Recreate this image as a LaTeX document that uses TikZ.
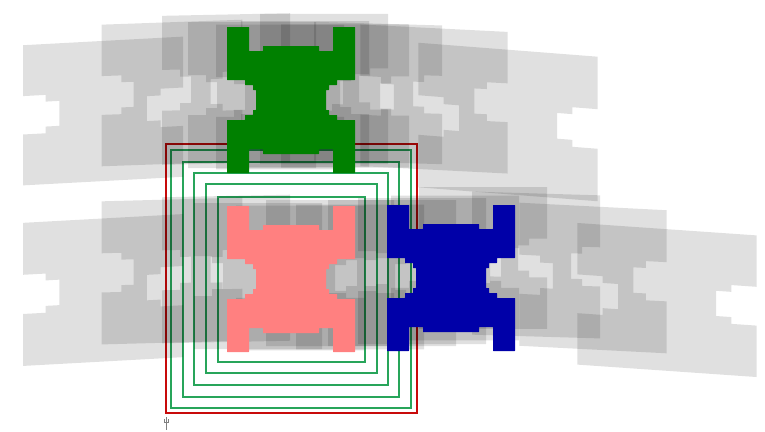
\documentclass[tikz,border=0pt]{standalone}
\definecolor{robgreen}{RGB}{0,128,0}
\definecolor{robpink}{RGB}{255,128,128}
\definecolor{robblue}{RGB}{0,0,168}
\definecolor{boxred}{RGB}{200,10,10}
\definecolor{boxgreen}{RGB}{40,165,90}
\newcommand{\robotat}[2]{%
\begin{scope}[#2]
\fill[#1] (-64,-73) -- (-42,-73) -- (-42,-49) -- (-28,-49) -- (-28,-54) -- (28,-54) -- (28,-49) -- (42,-49) -- (42,-73) -- (64,-73) -- (64,-20) -- (46,-20) -- (46,-15) -- (38,-15) -- (38,-10) -- (35,-10) -- (35,10) -- (38,10) -- (38,15) -- (46,15) -- (46,20) -- (64,20) -- (64,73) -- (42,73) -- (42,49) -- (28,49) -- (28,54) -- (-28,54) -- (-28,49) -- (-42,49) -- (-42,73) -- (-64,73) -- (-64,20) -- (-46,20) -- (-46,15) -- (-38,15) -- (-38,10) -- (-35,10) -- (-35,-10) -- (-38,-10) -- (-38,-15) -- (-46,-15) -- (-46,-20) -- (-64,-20) -- cycle;
\end{scope}}
\newcommand{\ghostat}[1]{%
\begin{scope}[#1]
\fill[ghost] (-64,-73) -- (64,-73) -- (64,-20) -- (46,-20) -- (46,-13) -- (35,-13) -- (35,13) -- (46,13) -- (46,20) -- (64,20) -- (64,73) -- (-64,73) -- (-64,20) -- (-46,20) -- (-46,13) -- (-35,13) -- (-35,-13) -- (-46,-13) -- (-46,-20) -- (-64,-20) -- cycle;
\end{scope}}
\tikzset{
  ghost/.style={black, fill opacity=0.12},
  solidbot/.style={rounded corners=0.4pt},
  outerbox/.style={draw=boxred, line width=1.8pt},
  innerbox/.style={draw=boxgreen, line width=1.4pt}
}
\begin{document}
\begin{tikzpicture}[x=1pt,y=-1pt]
\useasboundingbox (0,0) rectangle (765,431);
\fill[white] (0,0) rectangle (765,431);
% boxes
\draw[outerbox] (166,144) rectangle (417,413);
\draw[innerbox] (171,150) rectangle (411,408);
\draw[innerbox] (183,162) rectangle (399,397);
\draw[innerbox] (194,173) rectangle (388,385);
\draw[innerbox] (206,184) rectangle (377,373);
\draw[innerbox] (218,197) rectangle (365,362);
% small frame marker
\draw[gray, line width=0.5pt] (166,417) -- (166,430);
\draw[gray, line width=0.5pt] (164,419) -- (164,422) -- (168,422) -- (168,419);
% top row of ghost poses
\ghostat{shift={(103,111)}, xscale=1.25, yscale=0.96, yslant=0.07}
\ghostat{shift={(172,93)}, xscale=1.1, yscale=0.97, yslant=0.04}
\ghostat{shift={(226,89)}, yscale=1.02, yslant=0.02}
\ghostat{shift={(252,95)}, yscale=1.0}
\ghostat{shift={(280,97)}, yscale=0.99}
\ghostat{shift={(305,94)}, yscale=1.0}
\ghostat{shift={(324,89)}, yscale=1.03}
\ghostat{shift={(345,96)}, yscale=0.98}
\ghostat{shift={(378,93)}, yscale=0.95, yslant=-0.03}
\ghostat{shift={(434,99)}, xscale=1.15, yscale=0.97, yslant=-0.06}
\ghostat{shift={(508,122)}, xscale=1.4, yscale=0.99, yslant=-0.11}
% bottom row of ghost poses
\ghostat{shift={(103,290)}, xscale=1.25, yscale=0.98, yslant=0.07}
\ghostat{shift={(172,271)}, xscale=1.1, yscale=0.98, yslant=0.03}
\ghostat{shift={(226,269)}, yscale=1.0, yslant=0.02}
\ghostat{shift={(258,276)}, yscale=1.0}
\ghostat{shift={(300,278)}, yscale=0.99}
\ghostat{shift={(330,273)}, yscale=1.0}
\ghostat{shift={(360,277)}, yscale=0.99}
\ghostat{shift={(392,273)}, yscale=1.0}
\ghostat{shift={(422,271)}, yscale=1.0}
\ghostat{shift={(455,268)}, yscale=0.99}
\ghostat{shift={(483,258)}, yscale=0.97}
\ghostat{shift={(536,265)}, yscale=0.98, yslant=-0.03}
\ghostat{shift={(593,278)}, xscale=1.15, yscale=0.98, yslant=-0.06}
\ghostat{shift={(667,300)}, xscale=1.4, yscale=0.97, yslant=-0.10}
% solid robots
\robotat{solidbot, robgreen}{shift={(291,100)}}
\robotat{solidbot, robpink}{shift={(291,279)}}
\robotat{solidbot, robblue}{shift={(451,278)}}
\end{tikzpicture}
\end{document}
